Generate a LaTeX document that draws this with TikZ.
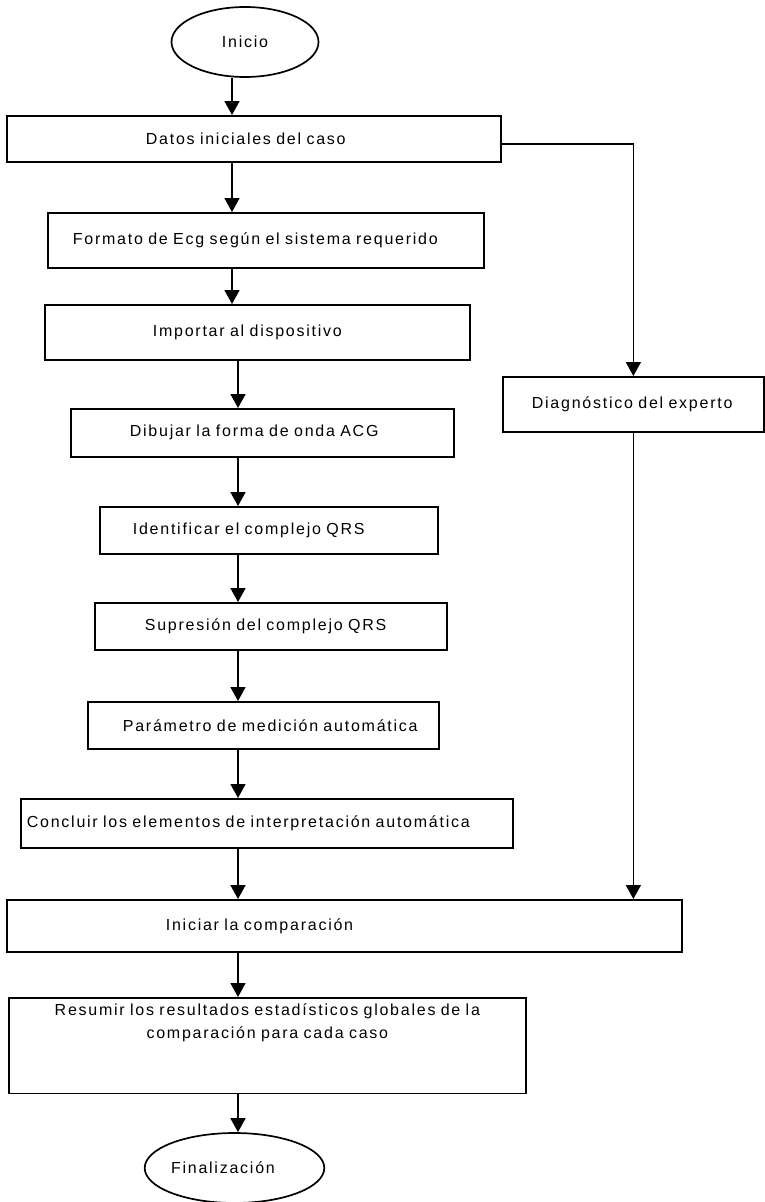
\documentclass[tikz,border=0pt]{standalone}
\usepackage{fontspec}
\setmainfont{Liberation Sans}[LetterSpace=11.0]
\usetikzlibrary{arrows.meta, positioning, shapes.geometric}
\newcommand\wordgap{\fontdimen2\font=7.2pt\relax}

\begin{document}
\begin{tikzpicture}[
  x=1pt, y=-1pt,
  font=\fontsize{16}{19}\selectfont\wordgap,
  box/.style={rectangle, draw, line width=1.7pt, anchor=north west, align=left, inner xsep=0pt, inner ysep=0pt},
  term/.style={ellipse, draw, line width=1.7pt, inner sep=0pt, minimum width=147pt, minimum height=70pt},
  >={Triangle[length=14pt, width=15pt]},
  line width=1.7pt
]
  \useasboundingbox (0,0) rectangle (765,1202);

  % spines of the main flow
  \coordinate (spineA) at (232,0);
  \coordinate (spineB) at (238,0);

  \node[term] (ini) at (245,42) {Inicio};

  \node[box, text width=494pt, minimum height=46pt] (datos) at (6,115)
    {\hspace*{139pt}Datos iniciales del caso};
  \node[box, text width=436pt, minimum height=55pt] (formato) at (47,212)
    {\hspace*{25pt}Formato de Ecg según el sistema requerido};
  \node[box, text width=425pt, minimum height=55pt] (importar) at (44,304)
    {\hspace*{108pt}Importar al dispositivo};
  \node[box, text width=383pt, minimum height=48pt] (dibujar) at (70,408)
    {\hspace*{59pt}Dibujar la forma de onda ACG};
  \node[box, text width=338pt, minimum height=47pt] (ident) at (99,506)
    {\hspace*{33pt}Identificar el complejo QRS};
  \node[box, text width=352pt, minimum height=47pt] (supres) at (94,602)
    {\hspace*{50pt}Supresión del complejo QRS};
  \node[box, text width=351pt, minimum height=47pt] (param) at (87,701)
    {\hspace*{35pt}Parámetro de medición automática};
  \node[box, text width=492pt, minimum height=49pt] (concl) at (20,798)
    {\hspace*{6pt}Concluir los elementos de interpretación automática};

  % expert branch
  \node[box, text width=261pt, minimum height=55pt] (diag) at (502,376)
    {\hspace*{29pt}Diagnóstico del experto};

  \node[box, text width=675pt, minimum height=52pt] (comp) at (6,899)
    {\hspace*{159pt}Iniciar la comparación};
  \node[box, text width=517pt, align=center, inner ysep=6pt, text depth=72pt,
    font=\fontsize{16}{23}\selectfont\wordgap] (resum) at (8,997)
    {Resumir los resultados estadísticos globales de la\\comparación para cada caso};

  \node[term, text width=127pt, align=left] (fin) at (234.5,1168) {Finalización};

  \draw[->] (ini.south -| spineA) -- (datos.north -| spineA);
  \draw[->] (datos.south -| spineA) -- (formato.north -| spineA);
  \draw[->] (formato.south -| spineA) -- (importar.north -| spineA);
  \draw[->] (importar.south -| spineB) -- (dibujar.north -| spineB);
  \draw[->] (dibujar.south -| spineB) -- (ident.north -| spineB);
  \draw[->] (ident.south -| spineB) -- (supres.north -| spineB);
  \draw[->] (supres.south -| spineB) -- (param.north -| spineB);
  \draw[->] (param.south -| spineB) -- (concl.north -| spineB);
  \draw[->] (concl.south -| spineB) -- (comp.north -| spineB);
  \draw[->] (comp.south -| spineB) -- (resum.north -| spineB);
  \draw[->] (resum.south -| spineB) -- (fin.north -| spineB);

  \draw[->] ([yshift=-5pt]datos.east) -| (diag.north);
  \draw[->] (diag.south) -- (diag.south |- comp.north);
\end{tikzpicture}
\end{document}
